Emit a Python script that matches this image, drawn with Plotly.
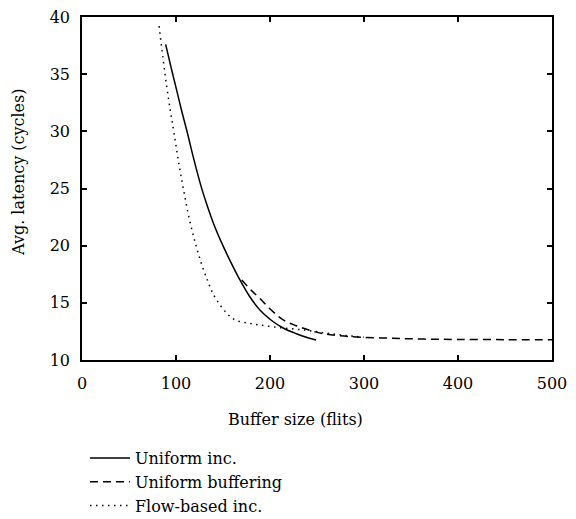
import plotly.graph_objects as go

# Data
uniform_inc_x = [89, 95, 101, 106, 112, 119, 127, 132, 137, 142, 148, 158, 168, 178, 189, 201, 214, 228, 242, 249]
uniform_inc_y = [37.6, 35.5, 33.5, 31.8, 29.9, 27.55, 25.1, 23.8, 22.6, 21.5, 20.35, 18.6, 17.0, 15.6, 14.4, 13.5, 12.8, 12.3, 11.9, 11.75]

uniform_buf_x = [170, 180, 189, 201, 214, 228, 242, 257, 275, 296, 330, 363, 400, 450, 500]
uniform_buf_y = [17.0, 16.1, 15.4, 14.4, 13.5, 13.0, 12.6, 12.3, 12.12, 12.0, 11.9, 11.83, 11.8, 11.78, 11.77]

flow_x = [82, 86, 90, 94, 98, 103, 108, 114, 121, 128, 134, 140, 147, 155, 163, 175, 189, 214, 239, 260, 280, 300]
flow_y = [39.2, 36.5, 34.0, 31.8, 29.8, 27.2, 24.9, 22.4, 20.1, 18.2, 16.85, 15.7, 14.8, 14.0, 13.5, 13.25, 13.06, 12.8, 12.6, 12.35, 12.15, 12.0]

x_ticks = [0, 100, 200, 300, 400, 500]
y_ticks = [10, 15, 20, 25, 30, 35, 40]

FONT = "DejaVu Serif"
FS = 16

fig = go.Figure()
fig.add_trace(go.Scatter(x=uniform_inc_x, y=uniform_inc_y, mode="lines", name="Uniform inc.",
                         line=dict(color="black", width=1.5, shape="spline", smoothing=1.0)))
fig.add_trace(go.Scatter(x=uniform_buf_x, y=uniform_buf_y, mode="lines", name="Uniform buffering",
                         line=dict(color="black", width=1.5, dash="8px,5px", shape="spline", smoothing=1.0)))
fig.add_trace(go.Scatter(x=flow_x, y=flow_y, mode="lines", name="Flow-based inc.",
                         line=dict(color="black", width=1.5, dash="1.5px,4.5px", shape="spline", smoothing=1.0)))

axis_common = dict(showline=True, linecolor="black", linewidth=1.5, mirror="ticks",
                   ticks="inside", ticklen=5, tickwidth=1.5, tickcolor="black",
                   showgrid=False, zeroline=False,
                   tickfont=dict(family=FONT, size=FS, color="black"))

fig.update_xaxes(range=[0, 500], tickvals=x_ticks, ticklabelstandoff=8, **axis_common)
fig.update_yaxes(range=[10, 40], tickvals=y_ticks, ticklabelstandoff=7, **axis_common)

fig.add_annotation(text="Buffer size (flits)", xref="paper", yref="paper",
                   x=(295 - 82) / 470, y=(360 - 420) / 343, showarrow=False,
                   xanchor="center", yanchor="middle",
                   font=dict(family=FONT, size=FS, color="black"))
fig.add_annotation(text="Avg. latency (cycles)", xref="paper", yref="paper",
                   x=(18 - 82) / 470, y=(360 - 172) / 343, showarrow=False, textangle=-90,
                   xanchor="center", yanchor="middle",
                   font=dict(family=FONT, size=FS, color="black"))

fig.update_layout(
    width=576, height=519,
    margin=dict(l=82, r=24, t=17, b=159, autoexpand=False),
    paper_bgcolor="white", plot_bgcolor="white",
    showlegend=True,
    legend=dict(orientation="v", x=3 / 470, y=(360 - 441) / 343, xanchor="left", yanchor="top",
                font=dict(family=FONT, size=FS, color="black"),
                itemwidth=40, bgcolor="rgba(0,0,0,0)", tracegroupgap=0),
)

fig.write_html("out.html")
